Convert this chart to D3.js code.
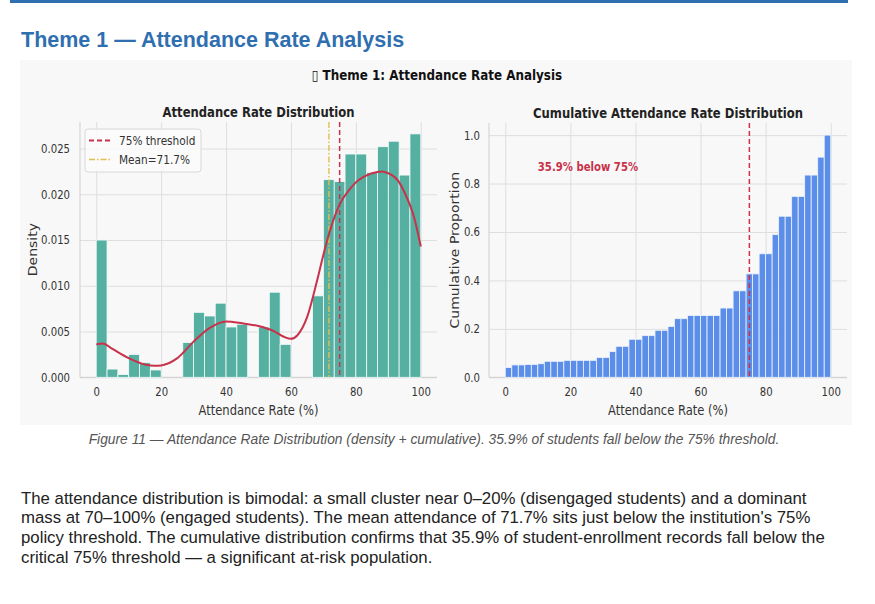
<!DOCTYPE html>
<html>
<head>
<meta charset="utf-8">
<script src="https://cdn.jsdelivr.net/npm/d3@7"></script>
<style>
  body { margin: 0; background: #fff; }
  svg { display: block; }
</style>
</head>
<body>
<script>
// donnees
const densityEdges = d3.range(31).map(i => i * 100 / 30);
const densityValues = [0.0150, 0.0009, 0.0003, 0.0025, 0.0016, 0.0008, 0, 0, 0.0038, 0.0071,
  0.0067, 0.0081, 0.0055, 0.0058, 0, 0.0055, 0.0093, 0.0036, 0, 0,
  0.0089, 0.0216, 0.0214, 0.0244, 0.0244, 0.0224, 0.0252, 0.0258, 0.0221, 0.0266];

const kdeX = [0, 2, 5, 10, 15, 18, 20, 25, 30, 35, 40, 45, 50, 55, 58, 60, 62, 65, 68, 70, 72, 75, 78, 80, 85, 88, 90, 93, 95, 98, 100];
const kdeY = [0.0036, 0.0037, 0.0031, 0.0021, 0.0014, 0.00125, 0.0013, 0.0021, 0.0039, 0.0054,
  0.0061, 0.0059, 0.0056, 0.0050, 0.0044, 0.0042, 0.0046, 0.0066, 0.0105, 0.0134,
  0.0160, 0.0189, 0.0205, 0.0213, 0.0223, 0.0225, 0.0223, 0.0215, 0.0202, 0.0174, 0.0143];

const cumEdges = d3.range(51).map(i => i * 2);
const cumValues = [0.040, 0.051, 0.051, 0.053, 0.053, 0.056, 0.066, 0.066, 0.066, 0.070,
  0.070, 0.070, 0.070, 0.070, 0.082, 0.082, 0.106, 0.128, 0.128, 0.157,
  0.157, 0.172, 0.172, 0.194, 0.194, 0.210, 0.242, 0.242, 0.255, 0.255,
  0.255, 0.255, 0.255, 0.286, 0.286, 0.357, 0.357, 0.427, 0.427, 0.510,
  0.510, 0.589, 0.665, 0.665, 0.747, 0.747, 0.835, 0.835, 0.909, 1.0];

const xTicks = [0, 20, 40, 60, 80, 100];
const densityTicks = [0, 0.005, 0.010, 0.015, 0.020, 0.025];
const cumTicks = [0, 0.2, 0.4, 0.6, 0.8, 1.0];
const threshold = 75;
const meanRate = 71.7;
const pctBelow = 35.9;

const bodyLines = [
  "The attendance distribution is bimodal: a small cluster near 0\u201320% (disengaged students) and a dominant",
  "mass at 70\u2013100% (engaged students). The mean attendance of 71.7% sits just below the institution's 75%",
  "policy threshold. The cumulative distribution confirms that 35.9% of student-enrollment records fall below the",
  "critical 75% threshold \u2014 a significant at-risk population."
];

const W = 875, H = 604;
const figFont = "'DejaVu Sans', sans-serif";
const htmlFont = "'Liberation Sans', Arial, sans-serif";
const SX = 0.83; // l'image de la figure est tassee en largeur
const svg = d3.select("body").append("svg").attr("width", W).attr("height", H);

// texte de la figure, tasse horizontalement
function figText(g, x, y, str, size, rotate) {
  return g.append("text")
    .attr("transform", `translate(${x},${y}) scale(${SX},1)` + (rotate ? " rotate(-90)" : ""))
    .attr("font-family", figFont).attr("font-size", size).attr("fill", "#333")
    .text(str);
}

// barre du haut + titre de section
svg.append("rect").attr("x", 10).attr("y", 0).attr("width", 838).attr("height", 3).attr("fill", "#2f6fb0");
svg.append("text").attr("x", 21).attr("y", 46.5)
  .attr("font-family", htmlFont).attr("font-weight", "bold")
  .attr("font-size", 21.5).attr("fill", "#2f6fb0")
  .text("Theme 1 \u2014 Attendance Rate Analysis");

// fond de la figure
svg.append("rect").attr("x", 20).attr("y", 60).attr("width", 832).attr("height", 365).attr("fill", "#f8f8f8");
figText(svg, 437, 80, "\u25AF Theme 1: Attendance Rate Analysis", 14.4)
  .attr("text-anchor", "middle").attr("font-weight", "bold").attr("fill", "#111");

function drawAxes(g, x, y, yTicks, yFmt, title, yLabel, box) {
  const gx = g.append("g").attr("transform", `translate(0,${box.bottom})`)
    .call(d3.axisBottom(x).tickValues(xTicks).tickSize(-(box.bottom - box.top)).tickPadding(10).tickFormat(d3.format("d")));
  const gy = g.append("g").attr("transform", `translate(${box.left},0)`)
    .call(d3.axisLeft(y).tickValues(yTicks).tickSize(-(box.right - box.left)).tickPadding(10).tickFormat(yFmt));
  [gx, gy].forEach(a => {
    a.select(".domain").remove();
    a.selectAll("line").attr("stroke", "#dedede").attr("stroke-width", 1);
    a.selectAll("text").attr("font-family", figFont).attr("font-size", 12.2).attr("fill", "#333")
      .attr("transform", `scale(${SX},1)`);
  });
  gy.selectAll("text").attr("x", -box.tickGap / SX);
  // spines gauche et bas
  g.append("line").attr("x1", box.left).attr("x2", box.left).attr("y1", box.top).attr("y2", box.bottom).attr("stroke", "#cfcfcf");
  g.append("line").attr("x1", box.left).attr("x2", box.right).attr("y1", box.bottom).attr("y2", box.bottom).attr("stroke", "#cfcfcf");

  const cx = (box.left + box.right) / 2;
  figText(g, cx, box.top - 5, title, 14).attr("text-anchor", "middle").attr("font-weight", "bold").attr("fill", "#222");
  figText(g, cx, box.bottom + 38, "Attendance Rate (%)", 13.9).attr("text-anchor", "middle");
  figText(g, box.yLabelX, (box.top + box.bottom) / 2, yLabel, 14, true).attr("text-anchor", "middle");
}

// ---- graphe de gauche : densite
const boxL = { left: 80, right: 437, top: 122, bottom: 377.3, yLabelX: 37, tickGap: 10 };
const xL = d3.scaleLinear().domain([-5, 105]).range([boxL.left, boxL.right]);
const yL = d3.scaleLinear().domain([0, 0.0279]).range([boxL.bottom, boxL.top]);
const gL = svg.append("g");
drawAxes(gL, xL, yL, densityTicks, d3.format(".3f"), "Attendance Rate Distribution", "Density", boxL);

gL.append("g").selectAll("rect")
  .data(densityValues)
  .enter()
  .append("rect")
  .attr("x", (d, i) => xL(densityEdges[i]))
  .attr("y", d => yL(d))
  .attr("width", (d, i) => xL(densityEdges[i + 1]) - xL(densityEdges[i]))
  .attr("height", d => yL(0) - yL(d))
  .attr("fill", "#55b0a2")
  .attr("stroke", "#f4fbfa")
  .attr("stroke-width", 0.8);

gL.append("line").attr("x1", xL(meanRate)).attr("x2", xL(meanRate)).attr("y1", boxL.top).attr("y2", boxL.bottom)
  .attr("stroke", "#e2be4e").attr("stroke-width", 1.4).attr("stroke-dasharray", "6,2,1.5,2");
gL.append("line").attr("x1", xL(threshold)).attr("x2", xL(threshold)).attr("y1", boxL.top).attr("y2", boxL.bottom)
  .attr("stroke", "#c8324a").attr("stroke-width", 1.5).attr("stroke-dasharray", "5,3");

gL.append("path")
  .datum(kdeX.map((x, i) => [x, kdeY[i]]))
  .attr("d", d3.line().x(d => xL(d[0])).y(d => yL(d[1])).curve(d3.curveMonotoneX))
  .attr("fill", "none").attr("stroke", "#c8324a").attr("stroke-width", 2);

// legende
const leg = gL.append("g").attr("transform", "translate(85,129)");
leg.append("rect").attr("width", 116).attr("height", 43).attr("rx", 3)
  .attr("fill", "#fbfbfb").attr("fill-opacity", 0.9).attr("stroke", "#d8d8d8");
leg.append("line").attr("x1", 4).attr("x2", 26).attr("y1", 11.5).attr("y2", 11.5)
  .attr("stroke", "#c8324a").attr("stroke-width", 1.8).attr("stroke-dasharray", "5,3");
leg.append("line").attr("x1", 4).attr("x2", 26).attr("y1", 30.5).attr("y2", 30.5)
  .attr("stroke", "#e2be4e").attr("stroke-width", 1.4).attr("stroke-dasharray", "6,2,1.5,2");
figText(leg, 34, 16, "75% threshold", 12.7);
figText(leg, 34, 35, "Mean=" + meanRate + "%", 12.7);

// ---- graphe de droite : cumulatif
const boxR = { left: 489, right: 847, top: 123, bottom: 377.3, yLabelX: 459, tickGap: 9 };
const xR = d3.scaleLinear().domain([-5, 105]).range([boxR.left, boxR.right]);
const yR = d3.scaleLinear().domain([0, 1.05]).range([boxR.bottom, boxR.top]);
const gR = svg.append("g");
drawAxes(gR, xR, yR, cumTicks, d3.format(".1f"), "Cumulative Attendance Rate Distribution", "Cumulative Proportion", boxR);

gR.append("g").selectAll("rect")
  .data(cumValues)
  .enter()
  .append("rect")
  .attr("x", (d, i) => xR(cumEdges[i]))
  .attr("y", d => yR(d))
  .attr("width", (d, i) => xR(cumEdges[i + 1]) - xR(cumEdges[i]))
  .attr("height", d => yR(0) - yR(d))
  .attr("fill", "#5b8ee8")
  .attr("stroke", "#eef3fd")
  .attr("stroke-width", 0.8);

gR.append("line").attr("x1", xR(threshold)).attr("x2", xR(threshold)).attr("y1", boxR.top).attr("y2", boxR.bottom)
  .attr("stroke", "#c8324a").attr("stroke-width", 1.5).attr("stroke-dasharray", "5,3");
figText(gR, xR(10), yR(0.87) + 4.5, pctBelow + "% below " + threshold + "%", 12.2)
  .attr("font-weight", "bold").attr("fill", "#c8324a");

// legende de la figure
svg.append("text").attr("x", 434).attr("y", 443.5).attr("text-anchor", "middle")
  .attr("font-family", htmlFont).attr("font-style", "italic")
  .attr("font-size", 13.8).attr("fill", "#555")
  .text("Figure 11 \u2014 Attendance Rate Distribution (density + cumulative). " + pctBelow + "% of students fall below the 75% threshold.");

// texte
svg.append("g").selectAll("text")
  .data(bodyLines)
  .enter()
  .append("text")
  .attr("x", 21)
  .attr("y", (d, i) => 503.5 + i * 19.8)
  .attr("font-family", htmlFont)
  .attr("font-size", 16.8)
  .attr("fill", "#222")
  .text(d => d);
</script>
</body>
</html>
